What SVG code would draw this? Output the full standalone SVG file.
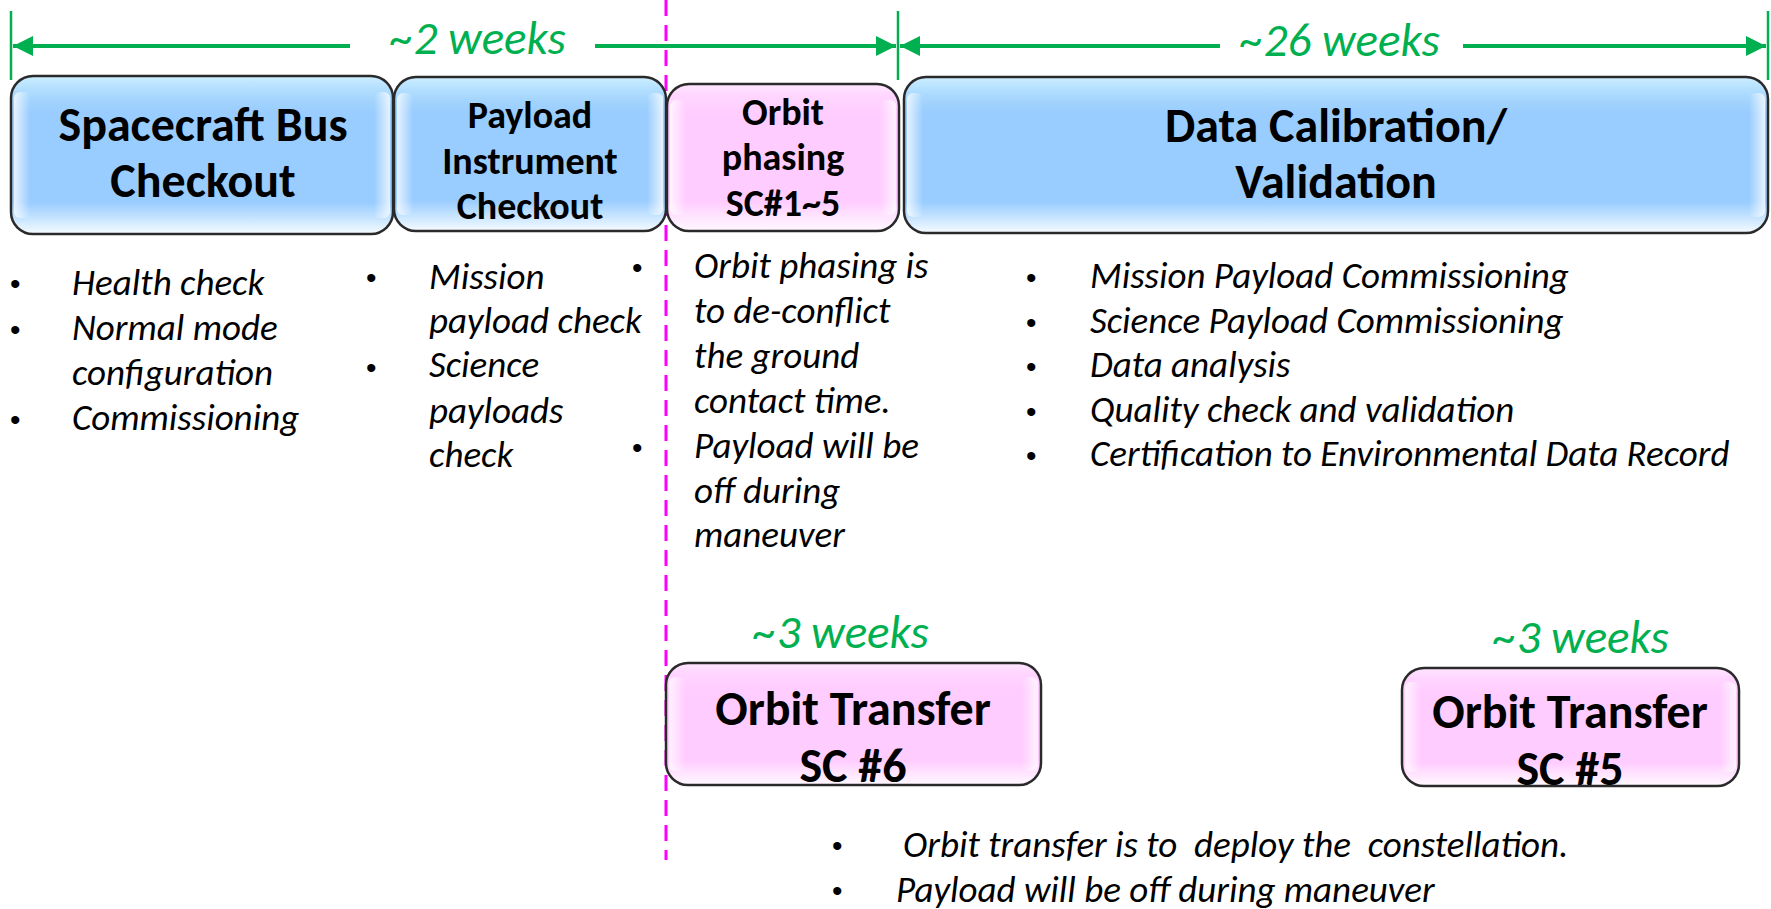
<svg xmlns="http://www.w3.org/2000/svg" width="1771" height="909" viewBox="0 0 1771 909">
<style>
.bg{fill:#ffffff}
.box{stroke:#2a2a2a;stroke-width:2.5}
.blue{fill:url(#blueV)}
.pink{fill:url(#pinkV)}
.edgeL{fill:url(#edgeL)}
.edgeR{fill:url(#edgeR)}
.title{font-family:Carlito,Lato,"Liberation Sans",sans-serif;font-weight:bold;fill:#000;text-anchor:middle}
.big{font-size:48px}
.mid{font-size:38px}
.note{font-family:Carlito,Lato,"Liberation Sans",sans-serif;font-style:italic;font-size:37px;fill:#000;white-space:pre}
.bul{font-family:"Liberation Sans",Arial,sans-serif;font-size:30px;fill:#000}
.wk{font-family:Carlito,Lato,"Liberation Sans",sans-serif;font-style:italic;font-size:47px;fill:#00B050;text-anchor:middle}
.garrow{stroke:#00B050;stroke-width:4;fill:none}
.tick{stroke:#00B050;stroke-width:2.5}
.dash{stroke:#FF00FF;stroke-width:3;stroke-dasharray:16 9;fill:none}
</style>
<defs>
<linearGradient id="blueV" x1="0" y1="0" x2="0" y2="1">
<stop offset="0" stop-color="#CDEEFF"/>
<stop offset="0.07" stop-color="#B6E1FF"/>
<stop offset="0.16" stop-color="#A2D3FD"/>
<stop offset="0.24" stop-color="#99CCFF"/>
<stop offset="0.80" stop-color="#99CCFF"/>
<stop offset="0.90" stop-color="#C6E4FF"/>
<stop offset="1" stop-color="#F6FBFF"/>
</linearGradient>
<linearGradient id="pinkV" x1="0" y1="0" x2="0" y2="1">
<stop offset="0" stop-color="#FFE6FF"/>
<stop offset="0.08" stop-color="#FFD6FF"/>
<stop offset="0.22" stop-color="#FFCCFF"/>
<stop offset="0.80" stop-color="#FFCCFF"/>
<stop offset="0.90" stop-color="#FFE4FF"/>
<stop offset="1" stop-color="#FFF8FF"/>
</linearGradient>
<linearGradient id="edgeL" x1="0" y1="0" x2="1" y2="0">
<stop offset="0" stop-color="#ffffff" stop-opacity="0.75"/>
<stop offset="1" stop-color="#ffffff" stop-opacity="0"/>
</linearGradient>
<linearGradient id="edgeR" x1="0" y1="0" x2="1" y2="0">
<stop offset="0" stop-color="#ffffff" stop-opacity="0"/>
<stop offset="1" stop-color="#ffffff" stop-opacity="0.75"/>
</linearGradient>
<marker id="ah" viewBox="0 0 10 10" refX="10" refY="5" markerWidth="7" markerHeight="5" orient="auto-start-reverse" markerUnits="strokeWidth">
<path d="M0,0 L10,5 L0,10 Z" fill="#00B050"/>
</marker>
</defs>
<rect class="bg" x="0" y="0" width="1771" height="909"/>

<g id="connectors">
<line class="tick" x1="11" y1="11" x2="11" y2="80"/>
<line class="tick" x1="898" y1="11" x2="898" y2="80"/>
<line class="tick" x1="1768" y1="11" x2="1768" y2="80"/>
<line class="garrow" x1="13" y1="46" x2="350" y2="46" marker-start="url(#ah)"/>
<line class="garrow" x1="595" y1="46" x2="896" y2="46" marker-end="url(#ah)"/>
<line class="garrow" x1="900" y1="46" x2="1220" y2="46" marker-start="url(#ah)"/>
<line class="garrow" x1="1463" y1="46" x2="1766" y2="46" marker-end="url(#ah)"/>
<line class="dash" x1="666" y1="0" x2="666" y2="860"/>
</g>

<g id="label-2weeks"><text class="wk" x="478" y="54">~2 weeks</text></g>
<g id="label-26weeks"><text class="wk" x="1340" y="56">~26 weeks</text></g>

<g id="node-bus">
<rect class="box blue" x="11" y="76" width="382" height="158" rx="22"/>
<rect class="edgeL" x="14" y="92" width="16" height="126" rx="6"/>
<rect class="edgeR" x="374" y="92" width="16" height="126" rx="6"/>
<text class="title big" x="203" y="141">Spacecraft Bus</text>
<text class="title big" x="203" y="197">Checkout</text>
</g>

<g id="node-payload">
<rect class="box blue" x="394" y="77" width="272" height="154" rx="22"/>
<rect class="edgeL" x="397" y="93" width="16" height="122" rx="6"/>
<rect class="edgeR" x="647" y="93" width="16" height="122" rx="6"/>
<text class="title mid" x="530" y="128">Payload</text>
<text class="title mid" x="530" y="174">Instrument</text>
<text class="title mid" x="530" y="219">Checkout</text>
</g>

<g id="node-phasing">
<rect class="box pink" x="667" y="84" width="232" height="147" rx="22"/>
<rect class="edgeL" x="670" y="100" width="16" height="115" rx="6"/>
<rect class="edgeR" x="880" y="100" width="16" height="115" rx="6"/>
<text class="title mid" x="783" y="125">Orbit</text>
<text class="title mid" x="783" y="170">phasing</text>
<text class="title mid" x="783" y="216">SC#1~5</text>
</g>

<g id="node-calibration">
<rect class="box blue" x="904" y="77" width="864" height="156" rx="22"/>
<rect class="edgeL" x="907" y="93" width="16" height="124" rx="6"/>
<rect class="edgeR" x="1749" y="93" width="16" height="124" rx="6"/>
<text class="title big" x="1336" y="142">Data Calibration/</text>
<text class="title big" x="1336" y="198">Validation</text>
</g>

<g id="notes-bus">
<text class="bul" x="10" y="294">•</text>
<text class="note" x="72" y="295">Health check</text>
<text class="bul" x="10" y="340">•</text>
<text class="note" x="72" y="340">Normal mode</text>
<text class="note" x="72" y="385">configuration</text>
<text class="bul" x="10" y="430">•</text>
<text class="note" x="72" y="430">Commissioning</text>
</g>

<g id="notes-payload">
<text class="bul" x="366" y="288">•</text>
<text class="note" x="429" y="289">Mission</text>
<text class="note" x="429" y="333">payload check</text>
<text class="bul" x="366" y="378">•</text>
<text class="note" x="429" y="377">Science</text>
<text class="note" x="429" y="423">payloads</text>
<text class="note" x="429" y="467">check</text>
</g>

<g id="notes-phasing">
<text class="bul" x="632" y="278">•</text>
<text class="note" x="694" y="278">Orbit phasing is</text>
<text class="note" x="694" y="323">to de-conflict</text>
<text class="note" x="694" y="368">the ground</text>
<text class="note" x="694" y="413">contact time.</text>
<text class="bul" x="632" y="458">•</text>
<text class="note" x="694" y="458">Payload will be</text>
<text class="note" x="694" y="503">off during</text>
<text class="note" x="694" y="547">maneuver</text>
</g>

<g id="notes-calibration">
<text class="bul" x="1026" y="288">•</text>
<text class="note" x="1090" y="288">Mission Payload Commissioning</text>
<text class="bul" x="1026" y="333">•</text>
<text class="note" x="1090" y="333">Science Payload Commissioning</text>
<text class="bul" x="1026" y="377">•</text>
<text class="note" x="1090" y="377">Data analysis</text>
<text class="bul" x="1026" y="422">•</text>
<text class="note" x="1090" y="422">Quality check and validation</text>
<text class="bul" x="1026" y="466">•</text>
<text class="note" x="1090" y="466">Certification to Environmental Data Record</text>
</g>

<g id="node-transfer6">
<text class="wk" x="841" y="648">~3 weeks</text>
<rect class="box pink" x="666" y="663" width="375" height="122" rx="22"/>
<rect class="edgeL" x="669" y="677" width="16" height="94" rx="6"/>
<rect class="edgeR" x="1022" y="677" width="16" height="94" rx="6"/>
<text class="title big" x="853" y="725">Orbit Transfer</text>
<text class="title big" x="853" y="782">SC #6</text>
</g>

<g id="node-transfer5">
<text class="wk" x="1581" y="653">~3 weeks</text>
<rect class="box pink" x="1402" y="668" width="337" height="118" rx="22"/>
<rect class="edgeL" x="1405" y="682" width="16" height="90" rx="6"/>
<rect class="edgeR" x="1720" y="682" width="16" height="90" rx="6"/>
<text class="title big" x="1570" y="728">Orbit Transfer</text>
<text class="title big" x="1570" y="785">SC #5</text>
</g>

<g id="notes-transfer">
<text class="bul" x="832" y="856">•</text>
<text class="note" x="903" y="857" xml:space="preserve">Orbit transfer is to  deploy the  constellation.</text>
<text class="bul" x="832" y="901">•</text>
<text class="note" x="896" y="902">Payload will be off during maneuver</text>
</g>
</svg>
